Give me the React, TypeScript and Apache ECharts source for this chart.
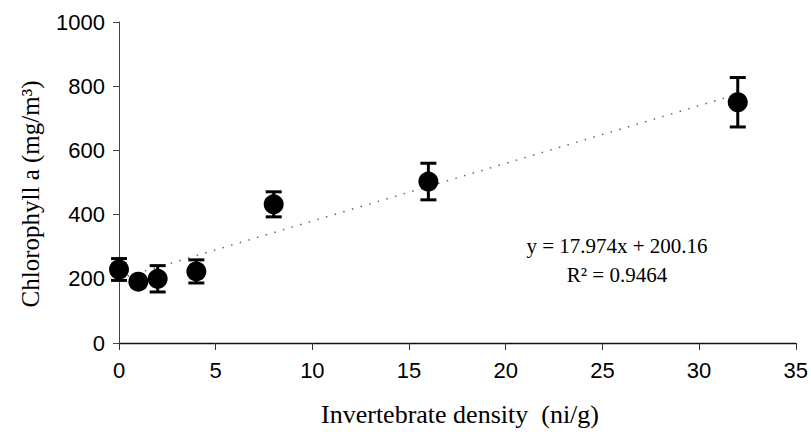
import React, { useEffect, useRef } from "react";
import * as echarts from "echarts";

const densities = [0, 1, 2, 4, 8, 16, 32];
const chlorophyll = [229, 191, 200, 223, 432, 503, 750];
const errors = [34, 12, 41, 36, 39, 57, 77];
const trendX = [0, 32];
const trendY = [200.16, 775.33];
const xTicks = { min: 0, max: 35, interval: 5 };
const yTicks = { min: 0, max: 1000, interval: 200 };
const equationLines = ["y = 17.974x + 200.16", "R² = 0.9464"];
const xTitle = "Invertebrate density  (ni/g)";
const yTitle = "Chlorophyll a (mg/m³)";

const SERIF = '"Liberation Serif", "Times New Roman", serif';
const SANS = '"Liberation Sans Narrow", "Liberation Sans", Arial, sans-serif';

export default function App() {
  const ref = useRef<HTMLDivElement>(null);
  useEffect(() => {
    if (!ref.current) return;
    const chart = echarts.init(ref.current, undefined, { renderer: "svg" });
    const points = densities.map((d, i) => [d, chlorophyll[i]]);
    const errData = densities.map((d, i) => [d, chlorophyll[i] - errors[i], chlorophyll[i] + errors[i]]);
    chart.setOption({
      animation: false,
      backgroundColor: "#ffffff",
      grid: { left: 119, right: 15, top: 22, bottom: 89, containLabel: false },
      xAxis: {
        type: "value",
        min: xTicks.min,
        max: xTicks.max,
        interval: xTicks.interval,
        splitLine: { show: false },
        axisLine: { show: true, onZero: false, lineStyle: { color: "#111", width: 1.3 } },
        axisTick: { show: true, inside: false, length: 7, lineStyle: { color: "#333", width: 1 } },
        axisLabel: { color: "#000", fontFamily: SANS, fontSize: 22, margin: 16, formatter: (v: number) => String(v) },
      },
      yAxis: {
        type: "value",
        min: yTicks.min,
        max: yTicks.max,
        interval: yTicks.interval,
        splitLine: { show: false },
        axisLine: { show: true, lineStyle: { color: "#444", width: 1 } },
        axisTick: { show: true, inside: false, length: 6, lineStyle: { color: "#444", width: 1 } },
        axisLabel: { color: "#000", fontFamily: SANS, fontSize: 22, margin: 14, formatter: (v: number) => String(v) },
      },
      series: [
        {
          type: "line",
          data: trendX.map((x, i) => [x, trendY[i]]),
          symbol: "none",
          lineStyle: { color: "#666", width: 1.5, type: [1.5, 7.5] },
          z: 1,
        },
        {
          type: "custom",
          data: errData,
          z: 2,
          renderItem: (params: any, api: any) => {
            const x = api.value(0);
            const lo = api.coord([x, api.value(1)]);
            const hi = api.coord([x, api.value(2)]);
            const hw = 8;
            const style = { stroke: "#000", lineWidth: 3 };
            return {
              type: "group",
              children: [
                { type: "line", shape: { x1: lo[0], y1: lo[1], x2: hi[0], y2: hi[1] }, style },
                { type: "line", shape: { x1: lo[0] - hw, y1: lo[1], x2: lo[0] + hw, y2: lo[1] }, style },
                { type: "line", shape: { x1: hi[0] - hw, y1: hi[1], x2: hi[0] + hw, y2: hi[1] }, style },
              ],
            };
          },
        },
        {
          type: "scatter",
          data: points,
          symbol: "circle",
          symbolSize: 20,
          itemStyle: { color: "#000", opacity: 1 },
          z: 3,
        },
      ],
      graphic: [
        {
          type: "text",
          x: 30,
          y: 194,
          rotation: Math.PI / 2,
          style: { text: yTitle, font: `25px ${SERIF}`, fill: "#000", align: "center", verticalAlign: "middle" },
        },
        {
          type: "text",
          x: 460,
          y: 414,
          style: { text: xTitle, font: `26px ${SERIF}`, fill: "#000", align: "center", verticalAlign: "middle" },
        },
        {
          type: "text",
          x: 617,
          y: 246,
          style: { text: equationLines[0], font: `21px ${SERIF}`, fill: "#000", align: "center", verticalAlign: "middle" },
        },
        {
          type: "text",
          x: 617,
          y: 275,
          style: { text: equationLines[1], font: `21px ${SERIF}`, fill: "#000", align: "center", verticalAlign: "middle" },
        },
      ],
    });
    return () => chart.dispose();
  }, []);
  return <div ref={ref} style={{ width: 811, height: 432, position: "absolute", left: 0, top: 0 }} />;
}
